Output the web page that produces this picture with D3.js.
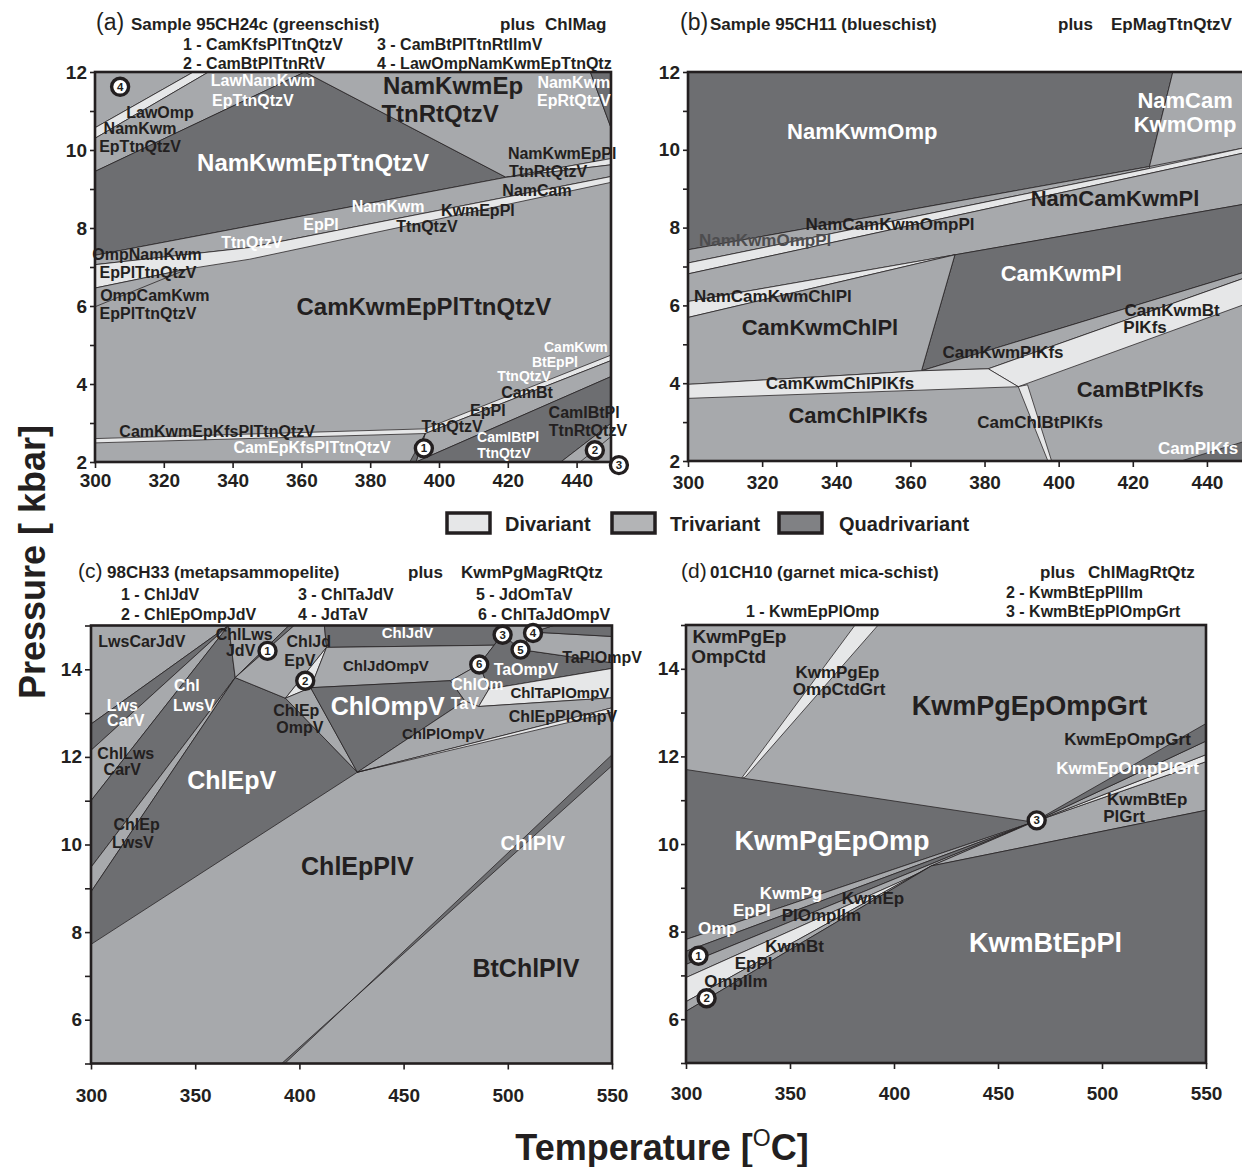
<!DOCTYPE html>
<html><head><meta charset="utf-8">
<script src="https://cdn.jsdelivr.net/npm/d3@7"></script>
<style>
body{margin:0;background:#fff;}
svg{display:block;font-family:"Liberation Sans",Arial,Helvetica,sans-serif;font-weight:bold;}
</style></head><body>
<svg id="chart" width="1242" height="1167"></svg>
<script>
// ---------- DATA (T in °C, P in kbar) ----------
const fieldTypes = [["d","Divariant"],["t","Trivariant"],["q","Quadrivariant"]];

const ticksTa = [300,320,340,360,380,400,420,440];
const ticksTc = [300,350,400,450,500,550];
const ticksPab = [2,3,4,5,6,7,8,9,10,11,12];
const ticksPcd = [5,6,7,8,9,10,11,12,13,14,15];

const regionsA = [
 {v:"t",p:[[300,12],[328.6,12],[300,10.57]]},
 {v:"d",p:[[328.6,12],[333,12],[300,10.3],[300,10.57]]},
 {v:"t",p:[[333,12],[361,12],[300,9.45],[300,10.3]]},
 {v:"q",p:[[300,9.45],[361,12],[419.5,9.3],[300,7.3]]},
 {v:"t",p:[[361,12],[444,12],[450,10.57],[450,9.78],[419.5,9.3]]},
 {v:"q",p:[[444,12],[450,12],[450,10.57]]},
 {v:"d",p:[[419.5,9.3],[450,9.78],[450,9.62]]},
 {v:"t",p:[[300,7.3],[419.5,9.3],[450,9.62],[450,9.32],[345,7.5],[300,7.06]]},
 {v:"d",p:[[300,7.06],[345,7.5],[450,9.32],[450,9.17],[345,7.2],[327,6.95],[300,6.46]]},
 {v:"t",p:[[300,6.46],[327,6.95],[300,5.98]]},
 {v:"d",p:[[300,2.6],[396,2.85],[450,4.74],[450,4.6],[396,2.73],[300,2.49]]},
 {v:"t",p:[[393.3,2],[396,2.73],[450,4.6],[450,4.19]]},
 {v:"q",p:[[391.5,2],[393.3,2],[396,2.73]]},
 {v:"q",p:[[393.3,2],[435.4,2],[450,2.99],[450,4.19]]},
 {v:"t",p:[[435.4,2],[450,2],[450,2.99]]},
 {v:"t",p:[[441,2],[450,2],[450,2.65]]}
];

const regionsB = [
 {v:"q",p:[[300,12],[430.8,12],[424.5,9.57],[300,7.43]]},
 {v:"t",p:[[430.8,12],[450,12],[450,10.05],[424.5,9.57]]},
 {v:"t",p:[[300,7.43],[424.5,9.57],[424.5,9.52],[300,7.09]]},
 {v:"d",p:[[300,7.09],[424.5,9.52],[450,10.05],[450,9.92],[300,6.81]]},
 {v:"t",p:[[300,6.81],[450,9.92],[450,8.6],[372,7.3],[300,6.1]]},
 {v:"d",p:[[300,6.1],[372,7.3],[300,5.69]]},
 {v:"q",p:[[372,7.3],[450,8.6],[450,6.85],[363,4.32]]},
 {v:"t",p:[[300,5.69],[372,7.3],[363,4.32],[300,3.97]]},
 {v:"t",p:[[363,4.32],[450,6.85],[450,6.7],[381,4.37]]},
 {v:"d",p:[[381,4.37],[450,6.7],[450,6.02],[389.1,3.91]]},
 {v:"d",p:[[300,3.97],[363,4.32],[381,4.37],[389.1,3.91],[300,3.61]]},
 {v:"d",p:[[389.1,3.91],[391.6,3.96],[398.1,2],[397.1,2]]},
 {v:"q",p:[[433,2],[450,2],[450,2.5]]}
];

const regionsC = [
 {v:"t",p:[[300,15],[366,15],[300,12.75]]},
 {v:"q",p:[[300,12.75],[366,15],[300,12.15]]},
 {v:"t",p:[[300,12.15],[366,15],[300,11.0]]},
 {v:"q",p:[[300,11.0],[366,15],[369.2,13.81],[300,9.48]]},
 {v:"t",p:[[300,9.48],[369.2,13.81],[300,8.92]]},
 {v:"q",p:[[300,8.92],[369.2,13.81],[393.3,13.34],[427.8,11.65],[300,7.72]]},
 {v:"t",p:[[366,15],[395,15],[369.2,13.81]]},
 {v:"q",p:[[369.2,13.81],[395,15],[397.5,15]]},
 {v:"t",p:[[397.5,15],[412,15],[413,14.5],[393.3,13.34],[369.2,13.81]]},
 {v:"d",p:[[413,14.5],[405.4,13.58],[393.3,13.34]]},
 {v:"t",p:[[393.3,13.34],[405.4,13.58],[427.8,11.65]]},
 {v:"q",p:[[412,15],[497,15],[497.5,14.8],[493.4,14.55],[413,14.5]]},
 {v:"t",p:[[413,14.5],[493.4,14.55],[486.3,14.11],[472.5,13.74],[405.4,13.58]]},
 {v:"q",p:[[405.4,13.58],[472.5,13.74],[479.4,13.28],[427.8,11.65]]},
 {v:"t",p:[[472.5,13.74],[486.3,14.11],[491,13.55],[486,13.15],[479.4,13.28]]},
 {v:"q",p:[[486.3,14.11],[497.5,14.8],[506.1,14.45],[550,14.15],[550,14.02],[491,13.55]]},
 {v:"t",p:[[506.1,14.45],[512,14.85],[550,14.75],[550,14.15]]},
 {v:"q",p:[[512,14.85],[522,15],[550,15],[550,14.75]]},
 {v:"t",p:[[497,15],[522,15],[512,14.85],[506.1,14.45],[497.5,14.8]]},
 {v:"d",p:[[491,13.55],[550,14.02],[550,13.35],[486,13.15]]},
 {v:"t",p:[[427.8,11.65],[479.4,13.28],[486,13.15],[550,13.35],[550,13.12]]},
 {v:"d",p:[[427.8,11.65],[550,13.12],[550,13.02]]},
 {v:"q",p:[[391.5,5],[393,5],[550,12.05],[550,11.8]]}
];

const regionsD = [
 {v:"d",p:[[326.5,11.49],[381.3,15],[392.4,15],[328.5,11.53]]},
 {v:"q",p:[[300,11.7],[467,10.5],[300,7.82]]},
 {v:"t",p:[[300,7.82],[467,10.5],[300,7.55]]},
 {v:"q",p:[[300,7.55],[467,10.5],[300,7.25]]},
 {v:"t",p:[[300,7.25],[467,10.5],[300,6.95]]},
 {v:"d",p:[[300,6.95],[467,10.5],[418,9.5],[300,6.4]]},
 {v:"t",p:[[300,6.4],[418,9.5],[300,6.18]]},
 {v:"t",p:[[418,9.5],[467,10.5],[550,11.88],[550,10.77]]},
 {v:"d",p:[[467,10.5],[550,12.04],[550,11.88]]},
 {v:"t",p:[[467,10.5],[550,12.35],[550,12.04]]},
 {v:"q",p:[[467,10.5],[550,12.75],[550,12.35]]},
 {v:"q",p:[[300,6.18],[418,9.5],[550,10.77],[550,5],[300,5]]}
];

// [text, T, P, colour, size-class]
const labelsA = [
 ["LawNamKwm",348.8,11.79,"w","m"],["EpTtnQtzV",345.9,11.28,"w","m"],
 ["LawOmp",318.9,10.97,"k","m"],["NamKwm",313.1,10.54,"k","m"],["EpTtnQtzV",313.1,10.08,"k","m"],
 ["NamKwmEp",404.1,11.66,"k","X"],["TtnRtQtzV",400.3,10.94,"k","X"],
 ["NamKwm",439.2,11.74,"w","m"],["EpRtQtzV",439.2,11.28,"w","m"],
 ["NamKwmEpTtnQtzV",363.4,9.69,"w","L"],
 ["NamKwmEpPl",435.8,9.9,"k","m"],["TtnRtQtzV",431.7,9.44,"k","m"],["NamCam",428.5,8.95,"k","m"],
 ["NamKwm",385.2,8.54,"w","m"],["KwmEpPl",411.3,8.46,"k","m"],["EpPl",365.7,8.08,"w","m"],
 ["TtnQtzV",396.5,8.03,"k","m"],["TtnQtzV",345.6,7.62,"w","m"],
 ["OmpNamKwm",315.1,7.31,"k","m"],["EpPlTtnQtzV",315.4,6.87,"k","m"],
 ["OmpCamKwm",317.4,6.26,"k","m"],["EpPlTtnQtzV",315.4,5.82,"k","m"],
 ["CamKwmEpPlTtnQtzV",395.6,6.0,"k","L"],
 ["CamKwm",439.8,4.95,"w","s"],["BtEpPl",433.7,4.56,"w","s"],["TtnQtzV",424.7,4.2,"w","s"],
 ["CamBt",425.6,3.77,"k","m"],["EpPl",414.2,3.33,"k","m"],["TtnQtzV",403.8,2.9,"k","m"],
 ["CamIBtPl",442.2,3.28,"k","m"],["TtnRtQtzV",443.3,2.82,"k","m"],
 ["CamIBtPl",420.1,2.64,"w","s"],["TtnQtzV",418.9,2.23,"w","s"],
 ["CamKwmEpKfsPlTtnQtzV",335.5,2.77,"k","m"],["CamEpKfsPlTtnQtzV",363.1,2.36,"w","m"]
];
const labelsB = [
 ["NamKwmOmp",347,10.46,"w","L"],["NamCam",434.1,11.28,"w","L"],["KwmOmp",434.1,10.64,"w","L"],
 ["NamCamKwmPl",415.2,8.76,"k","L"],["NamCamKwmOmpPl",354.5,8.09,"k","M"],
 ["NamKwmOmpPl",320.8,7.68,"g","M"],["CamKwmPl",400.7,6.83,"w","L"],
 ["NamCamKwmChlPl",322.9,6.24,"k","M"],["CamKwmChlPl",335.6,5.42,"k","L"],
 ["CamKwmBt",430.6,5.88,"k","M"],["PlKfs",423.3,5.42,"k","M"],["CamKwmPlKfs",385,4.8,"k","M"],
 ["CamKwmChlPlKfs",341,4.0,"k","M"],["CamBtPlKfs",422,3.85,"k","L"],
 ["CamChlPlKfs",345.9,3.18,"k","L"],["CamChlBtPlKfs",395,2.98,"k","M"],["CamPlKfs",437.6,2.33,"w","M"]
];
const labelsC = [
 ["LwsCarJdV",324.4,14.63,"k","m"],["ChlLws",373.5,14.79,"k","m"],["JdV",371.8,14.42,"k","m"],
 ["ChlJd",404.5,14.63,"k","m"],["EpV",400.2,14.2,"k","m"],["ChlJdV",451.9,14.83,"w","s"],
 ["ChlJdOmpV",441.5,14.08,"k","s"],["Lws",315,13.17,"w","m"],["CarV",316.7,12.83,"w","m"],
 ["Chl",346,13.62,"w","m"],["LwsV",349.4,13.17,"w","m"],["ChlEp",398.5,13.06,"k","m"],
 ["OmpV",400.2,12.68,"k","m"],["ChlOmpV",442.4,13.17,"w","L"],["ChlOm",485.4,13.66,"w","m"],
 ["TaV",479.4,13.21,"w","m"],["TaOmpV",508.7,14.0,"w","m"],["TaPlOmpV",545.2,14.28,"k","m"],
 ["ChlTaPlOmpV",525,13.47,"k","s"],["ChlEpPlOmpV",526.5,12.93,"k","m"],["ChlPlOmpV",469,12.53,"k","s"],
 ["ChlLws",316.7,12.08,"k","m"],["CarV",315,11.71,"k","m"],["ChlEpV",367.5,11.47,"w","L"],
 ["ChlEp",321.9,10.45,"k","m"],["LwsV",320.1,10.05,"k","m"],["ChlEpPlV",427.8,9.52,"k","L"],
 ["ChlPlV",512,10.04,"w","M"],["BtChlPlV",508.7,7.17,"k","L"]
];
const labelsD = [
 ["KwmPgEp",325.7,14.73,"k","m"],["OmpCtd",320.5,14.27,"k","m"],
 ["KwmPgEp",372.8,13.92,"k","s"],["OmpCtdGrt",373.6,13.53,"k","s"],
 ["KwmPgEpOmpGrt",465.2,13.14,"k","L"],["KwmEpOmpGrt",512.3,12.39,"k","s"],
 ["KwmEpOmpPlGrt",512.3,11.73,"w","s"],["KwmBtEp",521.7,11.01,"k","s"],["PlGrt",510.6,10.62,"k","s"],
 ["KwmPgEpOmp",370.2,10.06,"w","L"],["KwmBtEpPl",472.9,7.75,"w","L"],
 ["KwmPg",350.5,8.87,"w","s"],["EpPl",331.7,8.48,"w","s"],["Omp",315.1,8.06,"w","s"],
 ["KwmEp",389.9,8.75,"k","s"],["PlOmpIlm",365.1,8.36,"k","s"],
 ["KwmBt",352.2,7.67,"k","s"],["EpPl",332.5,7.28,"k","s"],["OmpIlm",324,6.87,"k","s"]
];
// invariant points: [number, T, P]
const pointsA = [[1,395.6,2.35],[2,445.3,2.3],[3,452.3,1.92],[4,307.3,11.62]];
const pointsB = [];
const pointsC = [[1,384.7,14.42],[2,402.8,13.74],[3,497.5,14.79],[4,512.1,14.83],[5,506.1,14.45],[6,486.3,14.11]];
const pointsD = [[1,306,7.45],[2,309.9,6.48],[3,468.6,10.54]];

const titlesA = {tag:"(a)", name:"Sample 95CH24c (greenschist)", plus:"ChlMag",
  list:["1  -  CamKfsPlTtnQtzV","3 - CamBtPlTtnRtIlmV","2  -  CamBtPlTtnRtV","4 - LawOmpNamKwmEpTtnQtz"]};
const titlesB = {tag:"(b)", name:"Sample 95CH11 (blueschist)", plus:"EpMagTtnQtzV", list:[]};
const titlesC = {tag:"(c)", name:"98CH33 (metapsammopelite)", plus:"KwmPgMagRtQtz",
  list:["1 - ChlJdV","3 - ChlTaJdV","5 - JdOmTaV","2 - ChlEpOmpJdV","4 - JdTaV","6 - ChlTaJdOmpV"]};
const titlesD = {tag:"(d)", name:"01CH10 (garnet mica-schist)", plus:"ChlMagRtQtz",
  list:["2 - KwmBtEpPlIlm","1 - KwmEpPlOmp","3 - KwmBtEpPlOmpGrt"]};

// ---------- STYLE / LAYOUT ----------
const fillOf = {d:"#e6e7e8", t:"#a7a9ac", q:"#6d6e71"};
const legendFill = {d:"#e6e7e8", t:"#b3b4b6", q:"#808184"};
const ink = "#231f20";
const textCol = {w:"#ffffff", k:ink, g:"#4d4d4f"};
const tickFont = '"Liberation Sans Narrow","Arial Narrow","Liberation Sans",Arial,sans-serif';

const svg = d3.select("#chart");

function drawPanel(cfg){
  const x = d3.scaleLinear().domain(cfg.xDom).range(cfg.xR);
  const y = d3.scaleLinear().domain(cfg.yDom).range(cfg.yR);
  const g = svg.append("g");
  const x0 = x(cfg.xDom[0]), x1 = x(cfg.xDom[1]), y0 = y(cfg.yDom[1]), y1 = y(cfg.yDom[0]);
  svg.append("clipPath").attr("id","clip"+cfg.id).append("rect")
    .attr("x",x0).attr("y",y0).attr("width",x1-x0).attr("height",y1-y0);
  const pg = g.append("g").attr("clip-path",`url(#clip${cfg.id})`);
  pg.append("rect").attr("x",x0).attr("y",y0).attr("width",x1-x0).attr("height",y1-y0)
    .attr("fill",fillOf.t);
  const line = d3.line().x(d=>x(d[0])).y(d=>y(d[1]));
  pg.selectAll("path.reg").data(cfg.regions).join("path").attr("class","reg")
    .attr("d",r=>line(r.p)+"Z").attr("fill",r=>fillOf[r.v])
    .attr("stroke",ink).attr("stroke-width",0.75).attr("stroke-linejoin","round");

  // axes
  const ya = d3.axisLeft(y).tickValues(cfg.yTicks).tickFormat(d=>d%2===0?d:"")
     .tickSize(cfg.yTick).tickPadding(cfg.yPad).tickSizeOuter(0);
  const yg = g.append("g").attr("transform",`translate(${x0},0)`).call(ya);
  const xa = d3.axisBottom(x).tickValues(cfg.xTicks).tickSize(6).tickPadding(cfg.xPad).tickSizeOuter(0);
  const xg = g.append("g").attr("transform",`translate(0,${y1})`).call(xa);
  [yg,xg].forEach(a=>{
    a.select(".domain").remove();
    a.selectAll("line").attr("stroke",ink).attr("stroke-width",1.6);
    a.selectAll("text").attr("fill",ink).style("font-family",tickFont)
      .style("font-size","19px").style("font-weight","bold");
  });
  // frame
  g.append("rect").attr("x",x0).attr("y",y0).attr("width",x1-x0).attr("height",y1-y0)
    .attr("fill","none").attr("stroke",ink).attr("stroke-width",2.6);

  // labels
  g.selectAll("text.lab").data(cfg.labels).join("text").attr("class","lab")
    .attr("x",d=>x(d[1])).attr("y",d=>y(d[2]))
    .attr("text-anchor","middle").attr("dominant-baseline","central")
    .attr("fill",d=>textCol[d[3]]).style("font-size",d=>cfg.sizes[d[4]]+"px")
    .text(d=>d[0]);

  // invariant points
  const pts = g.selectAll("g.pt").data(cfg.points).join("g").attr("class","pt")
    .attr("transform",d=>`translate(${x(d[1])},${y(d[2])})`);
  pts.append("circle").attr("r",cfg.pr).attr("fill","#fff").attr("stroke",ink).attr("stroke-width",3.4);
  pts.append("text").attr("text-anchor","middle").attr("dominant-baseline","central")
    .attr("fill",ink).style("font-size",(cfg.pr+3)+"px").text(d=>d[0]);

  // titles
  const t = cfg.titles, tp = cfg.tpos;
  const tt = g.append("text").attr("x",tp.x).attr("y",tp.y).attr("fill",ink);
  tt.append("tspan").style("font-size",tp.tagSize+"px").style("font-weight","normal").style("font-family",'"Liberation Sans",Arial,sans-serif').text(t.tag);
  tt.append("tspan").attr("x",tp.nameX).style("font-size","17px").text(t.name);
  g.append("text").attr("x",tp.plusX).attr("y",tp.y).attr("fill",ink).style("font-size","17px").text("plus");
  g.append("text").attr("x",tp.plusX2).attr("y",tp.y).attr("fill",ink).style("font-size","17px").text(t.plus);
  g.selectAll("text.lst").data(t.list).join("text").attr("class","lst")
    .attr("x",(d,i)=>tp.list[i][0]).attr("y",(d,i)=>tp.list[i][1])
    .attr("fill",ink).style("font-size","16px").text(d=>d);
}

drawPanel({id:"a", xDom:[300,450], yDom:[2,12], xR:[95,611], yR:[462,72],
  xTicks:ticksTa, yTicks:ticksPab, yTick:5, yPad:3, xPad:6,
  regions:regionsA, labels:labelsA, points:pointsA, pr:8.5,
  sizes:{s:14,m:16,L:24,X:24}, titles:titlesA,
  tpos:{x:96,y:30,tagSize:23,nameX:131,plusX:500,plusX2:545,
        list:[[183,50],[377,50],[183,69],[377,69]]}});

drawPanel({id:"b", xDom:[300,450], yDom:[2,12], xR:[688,1244], yR:[461,72],
  xTicks:ticksTa, yTicks:ticksPab, yTick:5, yPad:3, xPad:9,
  regions:regionsB, labels:labelsB, points:pointsB, pr:8.5,
  sizes:{M:17,L:22}, titles:titlesB,
  tpos:{x:680,y:30,tagSize:23,nameX:710,plusX:1058,plusX2:1111,list:[]}});

drawPanel({id:"c", xDom:[300,550], yDom:[5,15], xR:[91,612], yR:[1063.5,625.5],
  xTicks:ticksTc, yTicks:ticksPcd, yTick:6, yPad:3, xPad:19,
  regions:regionsC, labels:labelsC, points:pointsC, pr:8.5,
  sizes:{s:15,m:16,M:20,L:25}, titles:titlesC,
  tpos:{x:78,y:578,tagSize:21,nameX:107,plusX:408,plusX2:461,
        list:[[121,600],[298,600],[476,600],[121,620],[298,620],[478,620]]}});

drawPanel({id:"d", xDom:[300,550], yDom:[5,15], xR:[686,1206], yR:[1063,625],
  xTicks:ticksTc, yTicks:ticksPcd, yTick:5, yPad:2, xPad:18,
  regions:regionsD, labels:labelsD, points:pointsD, pr:8.5,
  sizes:{s:17,m:19,L:27}, titles:titlesD,
  tpos:{x:681,y:578,tagSize:21,nameX:710,plusX:1040,plusX2:1088,
        list:[[1006,598],[746,617],[1006,617]]}});

// legend
const legX = [447,612,779], legT = [505,670,839];
const lg = svg.append("g");
lg.selectAll("rect").data(fieldTypes).join("rect")
  .attr("x",(d,i)=>legX[i]).attr("y",513).attr("width",43).attr("height",20)
  .attr("fill",d=>legendFill[d[0]]).attr("stroke",ink).attr("stroke-width",3.5);
lg.selectAll("text").data(fieldTypes).join("text")
  .attr("x",(d,i)=>legT[i]).attr("y",531).attr("fill",ink).style("font-size","20px").text(d=>d[1]);

// axis titles
svg.append("text").attr("transform","translate(45,562) rotate(-90)").attr("text-anchor","middle")
  .attr("fill",ink).style("font-size","36px").text("Pressure [ kbar]");
const xt = svg.append("text").attr("x",662).attr("y",1160).attr("text-anchor","middle")
  .attr("fill",ink).style("font-size","36px");
xt.append("tspan").text("Temperature [");
xt.append("tspan").attr("dy",-14).style("font-size","23px").style("font-weight","normal").text("O");
xt.append("tspan").attr("dy",14).text("C]");
</script>
</body></html>
